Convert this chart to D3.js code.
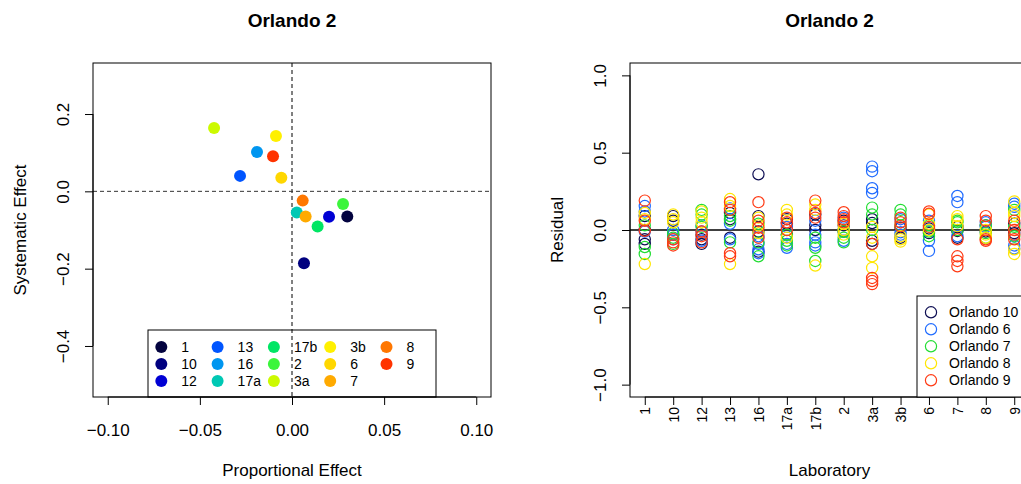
<!DOCTYPE html>
<html>
<head>
<meta charset="utf-8">
<script src="https://cdn.jsdelivr.net/npm/d3@7"></script>
<style>
  body { margin: 0; background: #fff; }
  svg { display: block; font-family: "Liberation Sans", Arial, sans-serif; }
</style>
</head>
<body>
<svg id="chart" width="1021" height="484"></svg>
<script>
// labs (same order in both panels)
const labs = ['1', '10', '12', '13', '16', '17a', '17b', '2', '3a', '3b', '6', '7', '8', '9'];
const labColors = ['#03033f', '#00007f', '#0000d4', '#0055ff', '#0096f0', '#00c8b4', '#00e664',
    '#3cf53c', '#ccfa00', '#fff000', '#ffd700', '#ffaa00', '#ff7700', '#ff3300'];

// left panel: proportional vs systematic effect
const propEffect = [0.030, 0.0065, 0.0201, -0.0282, -0.019, 0.0026, 0.0139,
    0.0277, -0.0423, -0.0087, -0.0058, 0.0074, 0.0058, -0.0103];
const sysEffect = [-0.065, -0.186, -0.066, 0.040, 0.102, -0.055, -0.091,
    -0.033, 0.164, 0.143, 0.035, -0.065, -0.024, 0.091];

const xTicksL = [-0.10, -0.05, 0.00, 0.05, 0.10];
const yTicksL = [-0.4, -0.2, 0.0, 0.2];

// right panel: residuals per lab, one array per series
const seriesNames = ['Orlando 10', 'Orlando 6', 'Orlando 7', 'Orlando 8', 'Orlando 9'];
const seriesColors = ['#0d0d52', '#1f6bff', '#22dd33', '#ffe600', '#ff3a14'];

const resid10 = [[0.09, 0.0, -0.06, -0.09], [0.09, 0.06, -0.03], [-0.03, -0.06, -0.09], [0.11, 0.07, -0.05],
    [0.36, 0.09, -0.01, -0.14], [0.07, 0.04, -0.03], [0.10, 0.03, 0.0], [0.06, 0.03, -0.01],
    [0.07, 0.045, -0.07, -0.09], [0.015, -0.05], [0.01, -0.02], [0.02, -0.006, -0.05],
    [0.03, -0.01], [0.04, -0.02]];
const resid6 = [[0.155, 0.12, -0.01], [0.0, -0.03, -0.06], [0.03, -0.01, -0.07], [0.14, 0.04, -0.06],
    [-0.04, -0.09, -0.125, -0.15], [0.02, -0.09, -0.115], [0.06, -0.03, -0.08, -0.10], [0.08, 0.0, -0.07],
    [0.41, 0.38, 0.27, 0.24], [0.07, -0.015, -0.03], [0.06, -0.07, -0.135], [0.22, 0.18, -0.04],
    [0.05, 0.02], [0.17, 0.15, -0.10, -0.12]];
const resid7 = [[0.03, -0.11, -0.155], [-0.02, -0.05, -0.09], [0.13, 0.10, 0.02], [0.09, 0.06, -0.08],
    [0.04, -0.08, -0.17], [-0.03, -0.07, -0.10], [-0.05, -0.115, -0.20], [-0.01, -0.05, -0.08],
    [0.145, 0.10, 0.0], [0.13, 0.10, 0.03], [0.03, -0.04, -0.01], [0.05, 0.0, 0.06],
    [0.03, -0.02, -0.05], [0.13, 0.02, -0.04]];
const resid8 = [[0.11, 0.07, -0.22], [0.10, 0.07, 0.05], [0.12, 0.08, 0.05], [0.20, 0.155, -0.22],
    [0.08, 0.03, -0.02], [0.13, 0.10, -0.05], [0.165, 0.13, -0.23], [0.04, 0.0, -0.03],
    [0.02, -0.05, -0.17, -0.245], [-0.04, -0.06, -0.075], [0.04, 0.0, 0.10], [0.09, 0.07, 0.025],
    [-0.03, -0.05, 0.0], [0.185, 0.11, 0.09, -0.125, -0.155]];
const resid9 = [[0.19, 0.06, -0.005], [-0.06, -0.08, -0.10], [-0.01, -0.04, -0.08], [0.18, 0.13, -0.15, -0.17],
    [0.18, 0.06, 0.015, -0.05], [0.08, 0.05, 0.0], [0.19, 0.11, 0.08], [0.115, 0.09, 0.07, 0.05],
    [-0.09, -0.31, -0.33, -0.35], [0.08, 0.05, 0.025], [0.12, 0.105, 0.02], [-0.06, -0.17, -0.20, -0.235],
    [0.09, 0.06, -0.06, -0.07], [0.06, 0.0, -0.03, -0.06]];
const residuals = [resid10, resid6, resid7, resid8, resid9];

const yTicksR = [-1.0, -0.5, 0.0, 0.5, 1.0];

const svg = d3.select('#chart');
svg.append('rect').attr('width', 1021).attr('height', 484).attr('fill', '#fff');

const fmtMinus = s => s.replace('-', '\u2212');

// ---------- left panel ----------
const boxL = { left: 93, right: 491, top: 63, bottom: 397 };
const xL = d3.scaleLinear().domain([-0.108, 0.108]).range([boxL.left, boxL.right]);
const yL = d3.scaleLinear().domain([-0.532, 0.332]).range([boxL.bottom, boxL.top]);

const gL = svg.append('g');

gL.append('text')
    .attr('x', (boxL.left + boxL.right) / 2).attr('y', 27)
    .attr('text-anchor', 'middle').attr('font-size', 19).attr('font-weight', 'bold')
    .text('Orlando 2');

// dashed reference lines
gL.append('line')
    .attr('x1', xL(0)).attr('x2', xL(0)).attr('y1', boxL.top).attr('y2', boxL.bottom)
    .attr('stroke', '#000').attr('stroke-dasharray', '4,3');
gL.append('line')
    .attr('x1', boxL.left).attr('x2', boxL.right).attr('y1', yL(0)).attr('y2', yL(0))
    .attr('stroke', '#333').attr('stroke-dasharray', '4,3');

gL.selectAll('.pt').data(labs).enter().append('circle')
    .attr('class', 'pt')
    .attr('cx', (d, i) => xL(propEffect[i]))
    .attr('cy', (d, i) => yL(sysEffect[i]))
    .attr('r', 6)
    .attr('fill', (d, i) => labColors[i]);

const xAxisL = d3.axisBottom(xL).tickValues(xTicksL).tickSize(8).tickSizeOuter(0)
    .tickFormat(d => fmtMinus(d3.format('.2f')(d)));
const gxL = gL.append('g').attr('transform', `translate(0,${boxL.bottom})`).call(xAxisL);
gxL.select('.domain').attr('d', `M${xL(-0.1)},0H${xL(0.1)}`);
gxL.selectAll('text').attr('font-size', 17).attr('font-family', null).attr('dy', null).attr('y', 39);

const yAxisL = d3.axisLeft(yL).tickValues(yTicksL).tickSize(8).tickSizeOuter(0)
    .tickFormat(d => fmtMinus(d3.format('.1f')(d)));
const gyL = gL.append('g').attr('transform', `translate(${boxL.left},0)`).call(yAxisL);
gyL.select('.domain').attr('d', `M0,${yL(-0.4)}V${yL(0.2)}`);
gyL.selectAll('.tick text')
    .attr('font-size', 17).attr('font-family', null)
    .attr('x', null).attr('dy', '0.35em')
    .attr('text-anchor', 'middle')
    .attr('transform', 'translate(-30,0) rotate(-90)');

gL.append('rect')
    .attr('x', boxL.left).attr('y', boxL.top)
    .attr('width', boxL.right - boxL.left).attr('height', boxL.bottom - boxL.top)
    .attr('fill', 'none').attr('stroke', '#000');

gL.append('text')
    .attr('x', (boxL.left + boxL.right) / 2).attr('y', 476)
    .attr('text-anchor', 'middle').attr('font-size', 17)
    .text('Proportional Effect');
gL.append('text')
    .attr('transform', `translate(20,${(boxL.top + boxL.bottom) / 2}) rotate(-90)`)
    .attr('dy', '0.35em')
    .attr('text-anchor', 'middle').attr('font-size', 17)
    .text('Systematic Effect');

// legend (column-major, 3 rows)
const legL = gL.append('g');
legL.append('rect')
    .attr('x', 148).attr('y', 330).attr('width', 288).attr('height', boxL.bottom - 330)
    .attr('fill', 'none').attr('stroke', '#000');
const legItem = legL.selectAll('.item').data(labs).enter().append('g')
    .attr('class', 'item')
    .attr('transform', (d, i) => `translate(${161.3 + Math.floor(i / 3) * 56.3},${347 + (i % 3) * 17})`);
legItem.append('circle').attr('r', 6).attr('fill', (d, i) => labColors[i]);
legItem.append('text')
    .attr('x', 20).attr('dy', '0.36em').attr('font-size', 14)
    .text(d => d);

// ---------- right panel ----------
const boxR = { left: 630, right: 1029, top: 63, bottom: 397 };
const labIndex = labs.map((d, i) => i + 1);
const xR = d3.scaleLinear().domain([0.48, 14.52]).range([boxR.left, boxR.right]);
const yR = d3.scaleLinear().domain([-1.08, 1.08]).range([boxR.bottom, boxR.top]);

const gR = svg.append('g');

gR.append('text')
    .attr('x', (boxR.left + boxR.right) / 2).attr('y', 27)
    .attr('text-anchor', 'middle').attr('font-size', 19).attr('font-weight', 'bold')
    .text('Orlando 2');

gR.append('line')
    .attr('x1', boxR.left).attr('x2', boxR.right).attr('y1', yR(0)).attr('y2', yR(0))
    .attr('stroke', '#000').attr('stroke-width', 1.3);

residuals.forEach((series, s) => {
    const pts = [];
    series.forEach((vals, li) => vals.forEach(v => pts.push({ lab: labIndex[li], v })));
    gR.append('g').selectAll('circle').data(pts).enter().append('circle')
        .attr('cx', d => xR(d.lab))
        .attr('cy', d => yR(d.v))
        .attr('r', 5.6)
        .attr('fill', 'none')
        .attr('stroke', seriesColors[s])
        .attr('stroke-width', 1.2);
});

const xAxisR = d3.axisBottom(xR).tickValues(labIndex).tickSize(8).tickSizeOuter(0)
    .tickFormat(d => labs[d - 1]);
const gxR = gR.append('g').attr('transform', `translate(0,${boxR.bottom})`).call(xAxisR);
gxR.select('.domain').attr('d', `M${xR(1)},0H${xR(14)}`);
gxR.selectAll('.tick text')
    .attr('font-size', 14).attr('font-family', null)
    .attr('y', null).attr('dy', '0.35em')
    .attr('text-anchor', 'end')
    .attr('transform', 'translate(0,10) rotate(-90)');

const yAxisR = d3.axisLeft(yR).tickValues(yTicksR).tickSize(8).tickSizeOuter(0)
    .tickFormat(d => fmtMinus(d3.format('.1f')(d)));
const gyR = gR.append('g').attr('transform', `translate(${boxR.left},0)`).call(yAxisR);
gyR.select('.domain').attr('d', `M0,${yR(-1)}V${yR(1)}`);
gyR.selectAll('.tick text')
    .attr('font-size', 17).attr('font-family', null)
    .attr('x', null).attr('dy', '0.35em')
    .attr('text-anchor', 'middle')
    .attr('transform', 'translate(-30,0) rotate(-90)');

gR.append('rect')
    .attr('x', boxR.left).attr('y', boxR.top)
    .attr('width', boxR.right - boxR.left).attr('height', boxR.bottom - boxR.top)
    .attr('fill', 'none').attr('stroke', '#000');

gR.append('text')
    .attr('x', (boxR.left + boxR.right) / 2).attr('y', 476)
    .attr('text-anchor', 'middle').attr('font-size', 17)
    .text('Laboratory');
gR.append('text')
    .attr('transform', `translate(557,${(boxR.top + boxR.bottom) / 2}) rotate(-90)`)
    .attr('dy', '0.35em')
    .attr('text-anchor', 'middle').attr('font-size', 17)
    .text('Residual');

const legR = gR.append('g');
legR.append('rect')
    .attr('x', 917).attr('y', 296).attr('width', 130).attr('height', boxR.bottom - 296)
    .attr('fill', '#fff').attr('stroke', '#000');
const legRItem = legR.selectAll('.item').data(seriesNames).enter().append('g')
    .attr('class', 'item')
    .attr('transform', (d, i) => `translate(931,${312.3 + i * 17})`);
legRItem.append('circle').attr('r', 5.6).attr('fill', 'none')
    .attr('stroke', (d, i) => seriesColors[i]).attr('stroke-width', 1.2);
legRItem.append('text')
    .attr('x', 18).attr('dy', '0.36em').attr('font-size', 14)
    .text(d => d);
</script>
</body>
</html>
